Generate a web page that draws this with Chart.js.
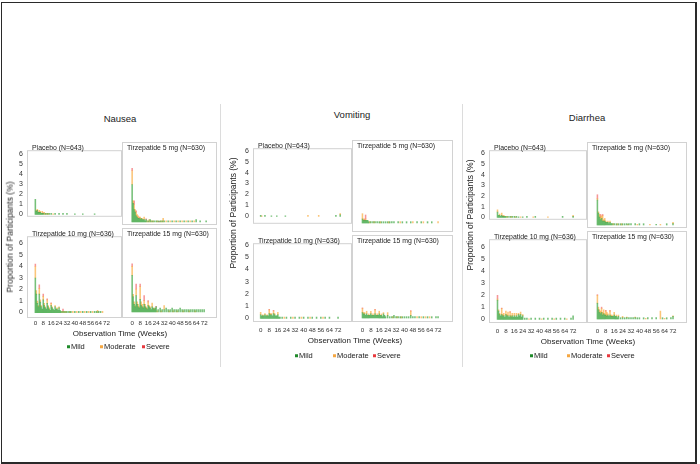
<!DOCTYPE html>
<html>
<head>
<meta charset="utf-8">
<title>GI adverse events by severity</title>
<script src="https://cdn.jsdelivr.net/npm/chart.js@4.4.1/dist/chart.umd.min.js"></script>
<style>
    body { margin: 0; background: #fff; font-family: "Liberation Sans", Arial, sans-serif; }
    #page { position: relative; width: 700px; height: 464px; overflow: hidden; background: #fff; }
    .frame { position: absolute; left: 1px; top: 2px; width: 696px; height: 462px; box-sizing: border-box;
             border: 1px solid #2a2a2a; border-right-width: 2px; border-bottom-width: 2px; }
    .sep { position: absolute; width: 1px; background: #dcdcdc; }
    .txt { position: absolute; white-space: nowrap; color: #222; line-height: 1; z-index: 2; }
    .title { font-size: 9.5px; transform: translate(-50%, -50%); }
    .ylab { font-size: 8.5px; transform: translate(-50%, -50%) rotate(-90deg); }
    .xlab { font-size: 8px; transform: translate(-50%, -50%); color: #222; }
    .arm { font-size: 6.9px; color: #222; }
    .leg { font-size: 7.5px; transform: translateY(-50%); }
    .leg i { display: inline-block; width: 3px; height: 3px; margin-right: 1px; vertical-align: 1px; }
    .plot { position: absolute; z-index: 1; }
</style>
</head>
<body>
<div id="page">
    <div class="frame"></div>
</div>
<script>
// ---- data: [week, % of participants] ----
const weekTicks = [0, 8, 16, 24, 32, 40, 48, 56, 64, 72];
const pctTicks = [0, 1, 2, 3, 4, 5, 6];
const severities = ['Mild', 'Moderate', 'Severe'];
const armLabels = ['Placebo (N=643)', 'Tirzepatide 5 mg (N=630)', 'Tirzepatide 10 mg (N=636)', 'Tirzepatide 15 mg (N=630)'];

// Nausea
const nauseaPboMild = [[0,1.5],[1,0.3],[2,0.4],[3,0.2],[4,0.2],[5,0.2],[6,0.1],[7,0.1],[8,0.1],[10,0.1],[12,0.1],[14,0.1],[16,0.1],[20,0.1],[24,0.1],[28,0.1],[32,0.1],[40,0.05],[48,0.05],[60,0.05]];
const nauseaPboMod = [[1,0.1],[2,0.1],[4,0.2],[5,0.1],[7,0.2],[9,0.2],[11,0.1],[13,0.1],[18,0.05]];
const nauseaPboSev = [[3,0.05],[8,0.05]];

const nausea5Mild = [[0,3.0],[1,1.5],[2,1.0],[3,0.8],[4,0.5],[5,0.4],[6,0.3],[7,0.3],[8,0.2],[9,0.3],[10,0.2],[11,0.2],[12,0.2],[13,0.1],[14,0.2],[16,0.1],[18,0.2],[20,0.1],[22,0.1],[24,0.1],[26,0.1],[28,0.1],[30,0.1],[32,0.1],[36,0.1],[40,0.1],[44,0.1],[48,0.1],[52,0.1],[56,0.1],[60,0.1],[64,0.2],[68,0.1],[74,0.1]];
const nausea5Mod = [[0,1.1],[1,0.2],[2,0.4],[3,0.2],[4,0.3],[5,0.2],[6,0.2],[8,0.2],[10,0.1],[12,0.2],[15,0.1],[17,0.2],[19,0.1],[21,0.1],[25,0.1],[29,0.1],[31,0.3],[34,0.1],[38,0.1],[42,0.1],[46,0.1],[50,0.1],[54,0.1],[58,0.1],[62,0.1]];
const nausea5Sev = [[0,0.2],[2,0.3],[4,0.1],[7,0.1],[14,0.05],[27,0.05]];

const nausea10Mild = [[0,3.0],[1,1.6],[2,0.8],[3,0.5],[4,1.6],[5,0.9],[6,0.5],[7,0.3],[8,1.1],[9,0.6],[10,0.4],[11,0.3],[12,0.8],[13,0.5],[14,0.3],[15,0.2],[16,0.6],[17,0.4],[18,0.3],[19,0.2],[20,0.5],[21,0.3],[22,0.3],[23,0.2],[24,0.4],[25,0.2],[26,0.1],[28,0.1],[30,0.1],[32,0.1],[34,0.1],[36,0.1],[40,0.1],[44,0.1],[48,0.1],[52,0.1],[56,0.1],[60,0.1],[62,0.1],[64,0.1],[66,0.1]];
const nausea10Mod = [[0,1.0],[1,0.3],[2,0.2],[3,0.1],[4,0.5],[5,0.2],[6,0.1],[8,0.3],[9,0.2],[10,0.1],[12,0.3],[13,0.1],[14,0.1],[16,0.2],[17,0.1],[20,0.1],[22,0.1],[24,0.1],[27,0.1],[29,0.1],[31,0.1],[35,0.1],[38,0.1],[42,0.1],[46,0.1],[50,0.1],[54,0.1],[58,0.1],[63,0.2],[68,0.1]];
const nausea10Sev = [[0,0.2],[4,0.3],[8,0.2],[12,0.1],[16,0.05],[28,0.2]];

const nausea15Mild = [[0,2.9],[1,1.2],[2,0.6],[3,0.4],[4,1.3],[5,0.6],[6,0.4],[7,0.3],[8,1.0],[9,0.5],[10,0.4],[11,0.3],[12,0.6],[13,0.4],[14,0.3],[15,0.2],[16,0.5],[17,0.4],[18,0.3],[19,0.2],[20,0.4],[21,0.3],[22,0.2],[23,0.3],[24,0.4],[26,0.2],[28,0.3],[30,0.2],[32,0.2],[34,0.3],[36,0.2],[38,0.2],[40,0.3],[42,0.2],[44,0.2],[46,0.2],[48,0.3],[50,0.2],[52,0.2],[54,0.2],[56,0.2],[58,0.2],[60,0.2],[62,0.2],[64,0.2],[66,0.2],[68,0.2],[70,0.2],[72,0.2]];
const nausea15Mod = [[0,0.7],[1,0.2],[2,0.2],[3,0.1],[4,0.5],[5,0.2],[6,0.2],[7,0.1],[8,1.0],[9,0.3],[10,0.2],[11,0.1],[12,0.3],[13,0.2],[14,0.1],[15,0.1],[16,0.3],[17,0.1],[18,0.1],[20,0.3],[22,0.1],[25,0.1],[29,0.1],[32,0.3],[37,0.1],[41,0.1],[45,0.1],[51,0.1],[57,0.1],[63,0.1]];
const nausea15Sev = [[0,0.2],[4,0.4],[8,0.2],[12,0.4],[16,0.1],[24,0.05]];

// Vomiting
const vomitPboMild = [[0,0.1],[4,0.1],[10,0.05],[15,0.05],[23,0.05],[70,0.1],[74,0.15]];
const vomitPboMod = [[1,0.05],[44,0.1],[54,0.1],[74,0.1]];
const vomitPboSev = [];

const vomit5Mild = [[0,0.3],[1,0.2],[2,0.2],[3,0.2],[4,0.2],[5,0.2],[6,0.1],[8,0.1],[10,0.1],[12,0.1],[14,0.1],[16,0.1],[18,0.1],[20,0.1],[22,0.1],[24,0.1],[26,0.1],[28,0.1],[30,0.1],[34,0.1],[38,0.1],[42,0.1],[46,0.1],[52,0.1],[56,0.1],[62,0.1],[66,0.1]];
const vomit5Mod = [[0,0.4],[1,0.1],[3,0.1],[7,0.1],[11,0.1],[17,0.1],[25,0.1],[36,0.1],[48,0.1],[58,0.1],[72,0.1]];
const vomit5Sev = [[2,0.1],[3,0.3]];

const vomit10Mild = [[0,0.3],[1,0.2],[2,0.2],[3,0.2],[4,0.3],[5,0.2],[6,0.2],[7,0.2],[8,0.4],[9,0.3],[10,0.3],[11,0.2],[12,0.4],[13,0.3],[14,0.2],[15,0.2],[16,0.3],[17,0.1],[18,0.1],[20,0.1],[24,0.1],[28,0.1],[32,0.1],[36,0.1],[40,0.1],[44,0.1],[48,0.1],[52,0.1],[56,0.1],[60,0.1],[64,0.1],[72,0.1]];
const vomit10Mod = [[0,0.2],[2,0.1],[4,0.1],[6,0.1],[8,0.3],[9,0.1],[10,0.1],[12,0.2],[13,0.1],[16,0.2],[22,0.1],[30,0.1],[38,0.1],[46,0.1],[58,0.1]];
const vomit10Sev = [[8,0.05],[12,0.05]];

const vomit15Mild = [[0,0.4],[1,0.3],[2,0.3],[3,0.2],[4,0.3],[5,0.2],[6,0.2],[7,0.2],[8,0.3],[9,0.2],[10,0.2],[11,0.2],[12,0.3],[13,0.2],[14,0.2],[15,0.2],[16,0.3],[17,0.2],[18,0.2],[19,0.1],[20,0.3],[21,0.2],[22,0.1],[24,0.2],[26,0.1],[28,0.1],[30,0.2],[32,0.1],[34,0.1],[36,0.1],[38,0.1],[40,0.1],[42,0.1],[44,0.1],[46,0.2],[48,0.1],[50,0.1],[54,0.1],[58,0.1],[62,0.1],[66,0.1],[70,0.1],[72,0.1]];
const vomit15Mod = [[0,0.3],[1,0.1],[2,0.1],[4,0.2],[6,0.1],[8,0.2],[10,0.1],[12,0.3],[14,0.1],[16,0.2],[18,0.1],[20,0.1],[24,0.2],[29,0.1],[33,0.1],[37,0.1],[46,0.3],[52,0.1],[56,0.1],[60,0.1],[64,0.1]];
const vomit15Sev = [[0,0.05],[12,0.05],[46,0.05]];

// Diarrhea
const diarrPboMild = [[0,0.5],[1,0.2],[2,0.2],[3,0.1],[4,0.2],[5,0.1],[6,0.1],[7,0.1],[8,0.1],[10,0.1],[12,0.1],[14,0.1],[16,0.1],[18,0.1],[20,0.05],[24,0.05],[28,0.1],[36,0.1],[62,0.1],[72,0.1]];
const diarrPboMod = [[0,0.2],[2,0.1],[4,0.2],[6,0.1],[9,0.1],[13,0.1],[17,0.05],[22,0.05],[34,0.05],[48,0.05],[72,0.1]];
const diarrPboSev = [[5,0.05]];

const diarr5Mild = [[0,1.9],[1,0.9],[2,0.6],[3,0.4],[4,0.5],[5,0.3],[6,0.3],[7,0.3],[8,0.2],[9,0.2],[10,0.2],[11,0.1],[12,0.2],[13,0.1],[14,0.1],[16,0.1],[18,0.1],[20,0.1],[22,0.1],[24,0.1],[26,0.1],[28,0.1],[30,0.1],[32,0.1],[36,0.1],[40,0.1],[44,0.1],[56,0.05],[66,0.1],[72,0.1]];
const diarr5Mod = [[0,0.1],[1,0.1],[2,0.2],[3,0.2],[4,0.2],[5,0.4],[6,0.1],[7,0.2],[8,0.1],[10,0.1],[12,0.1],[15,0.1],[19,0.1],[23,0.1],[29,0.05],[38,0.05],[50,0.05],[60,0.05],[72,0.1]];
const diarr5Sev = [[0,0.3],[3,0.2],[5,0.1]];

const diarr10Mild = [[0,1.6],[1,0.7],[2,0.4],[3,0.3],[4,0.4],[5,0.3],[6,0.3],[7,0.2],[8,0.4],[9,0.3],[10,0.3],[11,0.2],[12,0.3],[13,0.2],[14,0.3],[15,0.2],[16,0.3],[17,0.2],[18,0.3],[19,0.2],[20,0.4],[21,0.3],[22,0.4],[23,0.2],[24,0.3],[26,0.1],[28,0.1],[32,0.1],[36,0.1],[40,0.1],[44,0.1],[48,0.1],[52,0.1],[56,0.1],[60,0.1],[64,0.1],[70,0.1],[72,0.3]];
const diarr10Mod = [[0,0.1],[1,0.1],[2,0.1],[4,0.5],[5,0.1],[6,0.2],[8,0.3],[9,0.1],[10,0.3],[12,0.3],[13,0.1],[14,0.2],[16,0.2],[18,0.2],[20,0.1],[22,0.2],[24,0.1],[30,0.05],[42,0.05],[54,0.05],[66,0.05]];
const diarr10Sev = [[0,0.3],[4,0.05],[12,0.05]];

const diarr15Mild = [[0,1.2],[1,0.7],[2,0.5],[3,0.4],[4,0.5],[5,0.3],[6,0.4],[7,0.3],[8,0.3],[9,0.2],[10,0.3],[11,0.2],[12,0.3],[13,0.2],[14,0.2],[15,0.2],[16,0.3],[17,0.2],[18,0.2],[19,0.1],[20,0.2],[22,0.1],[24,0.1],[26,0.1],[28,0.1],[30,0.1],[32,0.1],[34,0.1],[36,0.1],[38,0.1],[40,0.1],[44,0.1],[48,0.1],[52,0.1],[56,0.1],[62,0.1],[66,0.1],[70,0.1],[72,0.2]];
const diarr15Mod = [[0,0.6],[1,0.2],[2,0.2],[3,0.2],[4,0.3],[5,0.2],[6,0.3],[7,0.1],[8,0.3],[9,0.3],[10,0.1],[12,0.3],[13,0.1],[14,0.1],[16,0.2],[18,0.1],[20,0.1],[24,0.1],[28,0.05],[36,0.05],[46,0.05],[60,0.6],[64,0.05],[72,0.05]];
const diarr15Sev = [[0,0.05],[4,0.1],[8,0.05],[12,0.05]];

// ---- look ----
const barColors = ['rgba(60,165,64,0.7)', 'rgba(250,172,64,0.7)', 'rgba(240,80,84,0.6)'];
const legendColors = ['#1f8a2a', '#f5a742', '#e8393e'];

// cols: [boxLeft, boxRight, px of week 0, px of week 72]; rows: [boxTop, boxBottom, px of 0%, px of 6%]
const panels = [
    {
        title: 'Nausea', titlePos: [120, 119], yLabelPos: [10, 237], xLabelPos: [120, 334],
        legendY: 347, legendX: [67, 100, 142], xTickY: 323,
        cols: [[27, 122, 31, 110], [122, 217, 128, 208]],
        rows: [[142, 225, 222, 147], [228, 318, 312, 236]],
        arms: [[nauseaPboMild, nauseaPboMod, nauseaPboSev], [nausea5Mild, nausea5Mod, nausea5Sev],
               [nausea10Mild, nausea10Mod, nausea10Sev], [nausea15Mild, nausea15Mod, nausea15Sev]]
    },
    {
        title: 'Vomiting', titlePos: [352, 115], yLabelPos: [233, 213], xLabelPos: [355, 341],
        legendY: 356, legendX: [295, 333, 373], xTickY: 330,
        cols: [[253, 352, 256, 342], [352, 453, 358, 442]],
        rows: [[140, 232, 223, 143], [235, 322, 318, 237]],
        arms: [[vomitPboMild, vomitPboMod, vomitPboSev], [vomit5Mild, vomit5Mod, vomit5Sev],
               [vomit10Mild, vomit10Mod, vomit10Sev], [vomit15Mild, vomit15Mod, vomit15Sev]]
    },
    {
        title: 'Diarrhea', titlePos: [587, 118], yLabelPos: [470, 215], xLabelPos: [588, 342],
        legendY: 356, legendX: [530, 567, 607], xTickY: 331,
        cols: [[489, 587, 493, 577], [587, 687, 593, 677]],
        rows: [[142, 228, 225, 146], [231, 323, 319, 240]],
        arms: [[diarrPboMild, diarrPboMod, diarrPboSev], [diarr5Mild, diarr5Mod, diarr5Sev],
               [diarr10Mild, diarr10Mod, diarr10Sev], [diarr15Mild, diarr15Mod, diarr15Sev]]
    }
];

const page = document.getElementById('page');

const el = (cls, text, x, y) => {
    const d = document.createElement('div');
    d.className = 'txt ' + cls;
    d.style.left = x + 'px';
    d.style.top = y + 'px';
    if (text !== null) d.textContent = text;
    page.appendChild(d);
    return d;
};

// light box around each facet
const boxPlugin = {
    id: 'facetBox',
    afterDraw(chart) {
        const { ctx, chartArea: a } = chart;
        ctx.save();
        ctx.strokeStyle = '#d2d2d2';
        ctx.lineWidth = 1;
        ctx.strokeRect(a.left + 0.5, a.top + 0.5, a.right - a.left - 1, a.bottom - a.top - 1);
        ctx.restore();
    }
};

const FONT = '"Liberation Sans", Arial, sans-serif';

function facet(p, ci, ri, series, label) {
    const [left, right, x0, x72] = p.cols[ci];
    const [top, bottom, y0, y6] = p.rows[ri];
    const ppw = (x72 - x0) / 72;
    const ppu = (y0 - y6) / 6;
    const yAxisW = ci === 0 ? 18 : 0;
    const xAxisH = ri === 1 ? 14 : 0;

    const wrap = document.createElement('div');
    wrap.className = 'plot';
    wrap.style.left = (left - yAxisW) + 'px';
    wrap.style.top = top + 'px';
    wrap.style.width = (right - left + yAxisW) + 'px';
    wrap.style.height = (bottom - top + xAxisH) + 'px';
    const canvas = document.createElement('canvas');
    wrap.appendChild(canvas);
    page.appendChild(wrap);

    new Chart(canvas, {
        type: 'bar',
        data: {
            datasets: series.map((pts, i) => ({
                label: severities[i],
                data: pts.map(([w, v]) => ({ x: w, y: v })),
                backgroundColor: barColors[i],
                borderWidth: 0,
                barThickness: 0.9
            }))
        },
        options: {
            responsive: true,
            maintainAspectRatio: false,
            animation: false,
            events: [],
            layout: { padding: 0, autoPadding: false },
            plugins: { legend: { display: false }, tooltip: { enabled: false }, title: { display: false } },
            scales: {
                x: {
                    type: 'linear',
                    stacked: true,
                    display: ri === 1,
                    min: -(x0 - left) / ppw,
                    max: (right - x0) / ppw,
                    afterBuildTicks: (ax) => { ax.ticks = weekTicks.map(v => ({ value: v })); },
                    afterFit: (ax) => { ax.height = xAxisH; },
                    grid: { display: false, drawTicks: false },
                    border: { display: false },
                    ticks: { font: { family: FONT, size: 6.2 }, color: '#333', padding: p.xTickY - bottom - 3, maxRotation: 0, autoSkip: false }
                },
                y: {
                    stacked: true,
                    display: ci === 0,
                    min: -(bottom - y0) / ppu,
                    max: 6 + (y6 - top) / ppu,
                    afterBuildTicks: (ax) => { ax.ticks = pctTicks.map(v => ({ value: v })); },
                    afterFit: (ax) => { ax.width = yAxisW; },
                    grid: { display: false, drawTicks: false },
                    border: { display: false },
                    ticks: { font: { family: FONT, size: 7 }, color: '#333', padding: 4 }
                }
            }
        },
        plugins: [boxPlugin]
    });

    el('arm', label, left + 5, top + 3);
}

panels.forEach(p => {
    el('title', p.title, p.titlePos[0], p.titlePos[1]);
    el('ylab', 'Proportion of Participants (%)', p.yLabelPos[0], p.yLabelPos[1]);
    el('xlab', 'Observation Time (Weeks)', p.xLabelPos[0], p.xLabelPos[1]);

    p.arms.forEach((series, k) => facet(p, k % 2, Math.floor(k / 2), series, armLabels[k]));

    severities.forEach((s, i) => {
        const d = el('leg', null, p.legendX[i], p.legendY);
        d.innerHTML = `<i style="background:${legendColors[i]}"></i>${s}`;
    });
});

// thin separators between the three panels
[220, 462].forEach(x => {
    const s = document.createElement('div');
    s.className = 'sep';
    s.style.left = x + 'px';
    s.style.top = '104px';
    s.style.height = '263px';
    page.appendChild(s);
});
</script>
</body>
</html>
